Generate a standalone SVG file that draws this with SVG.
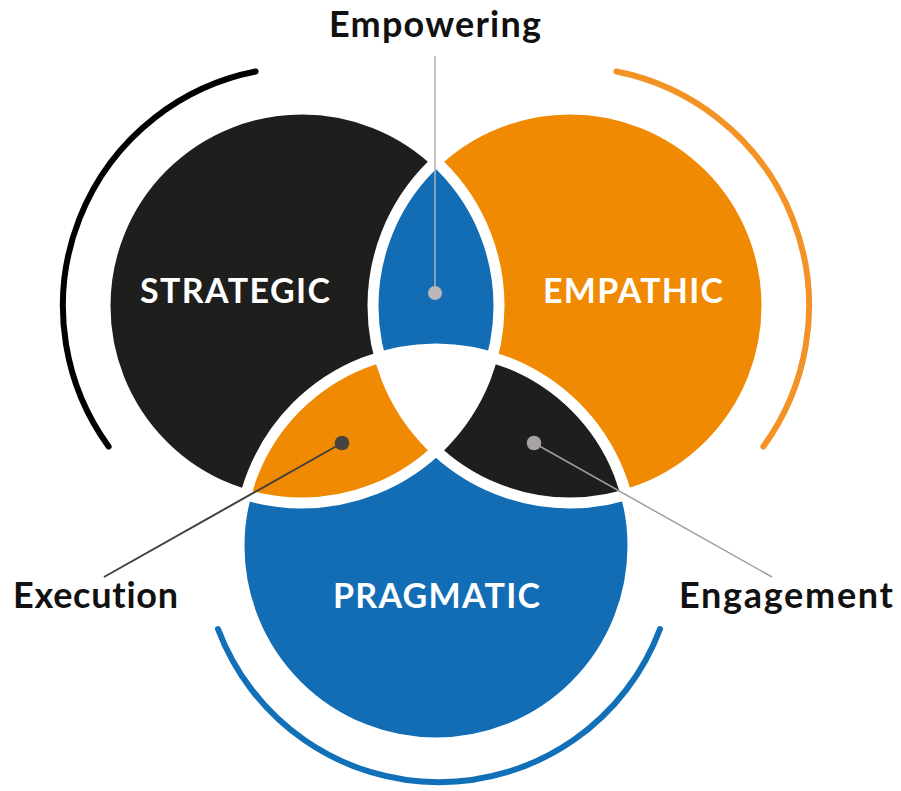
<svg xmlns="http://www.w3.org/2000/svg" width="901" height="791" viewBox="0 0 901 791">
  <style>
    .label { font-family: Lato, "Open Sans", "Liberation Sans", sans-serif; font-weight: 700; font-size: 36px; fill: #111111; text-anchor: middle; font-variant-ligatures: none; }
    .title { font-family: Lato, "Open Sans", "Liberation Sans", sans-serif; font-weight: 700; font-size: 34px; fill: #ffffff; text-anchor: middle; }
    .sep { fill: none; stroke: #ffffff; stroke-width: 11; }
    .ring { fill: none; stroke-width: 6; stroke-linecap: round; }
  </style>
  <defs>
    <clipPath id="clipStrategic"><circle cx="302" cy="306" r="197"/></clipPath>
    <clipPath id="clipEmpathic"><circle cx="570" cy="306" r="197"/></clipPath>
    <clipPath id="clipPragmatic"><circle cx="436" cy="546" r="197"/></clipPath>
  </defs>
  <rect width="901" height="791" fill="#ffffff"/>

  <!-- outer rings -->
  <g id="rings">
    <path class="ring" stroke="#000000" d="M255.6,71.5 A239,239 0 0 0 108.6,446.5"/>
    <path class="ring" stroke="#F39325" d="M616.4,71.5 A239,239 0 0 1 763.4,446.5"/>
    <path class="ring" stroke="#1170B8" d="M218,629 A236,236 0 0 0 660,629"/>
  </g>

  <!-- main circles -->
  <g id="strategic"><circle cx="302" cy="306" r="197" fill="#1E1E1D"/></g>
  <g id="empathic"><circle cx="570" cy="306" r="197" fill="#F18A03"/></g>
  <g id="pragmatic"><circle cx="436" cy="546" r="197" fill="#126DB4"/></g>

  <!-- overlaps -->
  <g id="empowering-zone"><circle cx="570" cy="306" r="197" fill="#126DB4" clip-path="url(#clipStrategic)"/></g>
  <g id="execution-zone"><circle cx="436" cy="546" r="197" fill="#F18A03" clip-path="url(#clipStrategic)"/></g>
  <g id="engagement-zone"><circle cx="436" cy="546" r="197" fill="#1E1E1D" clip-path="url(#clipEmpathic)"/></g>
  <g id="core" clip-path="url(#clipEmpathic)"><circle cx="302" cy="306" r="197" fill="#ffffff" clip-path="url(#clipPragmatic)"/></g>

  <!-- white separators -->
  <g id="separators">
    <circle class="sep" cx="302" cy="306" r="197"/>
    <circle class="sep" cx="570" cy="306" r="197"/>
    <circle class="sep" cx="436" cy="546" r="197"/>
  </g>

  <!-- circle titles -->
  <g id="titles">
    <text class="title" x="235" y="303" textLength="190">STRATEGIC</text>
    <text class="title" x="633" y="303" textLength="180">EMPATHIC</text>
    <text class="title" x="436.5" y="608" textLength="207">PRAGMATIC</text>
  </g>

  <!-- callout connectors -->
  <g id="connectors">
    <line x1="435" y1="56" x2="435" y2="293" stroke="#B3B3B3" stroke-width="1.5"/>
    <circle cx="435" cy="293" r="7" fill="#BBB7B7"/>
    <line x1="342" y1="443" x2="104" y2="577" stroke="#45403B" stroke-width="2"/>
    <circle cx="342" cy="443" r="7.3" fill="#48433E"/>
    <line x1="534" y1="443" x2="772" y2="577" stroke="#9E9E9E" stroke-width="1.5"/>
    <circle cx="534" cy="443" r="7.3" fill="#A7A3A3"/>
  </g>

  <!-- callout labels -->
  <g id="labels">
    <text class="label" x="435" y="37" textLength="212">Empowering</text>
    <text class="label" x="95.5" y="608" textLength="165">Execution</text>
    <text class="label" x="786" y="608" textLength="214">Engagement</text>
  </g>
</svg>
